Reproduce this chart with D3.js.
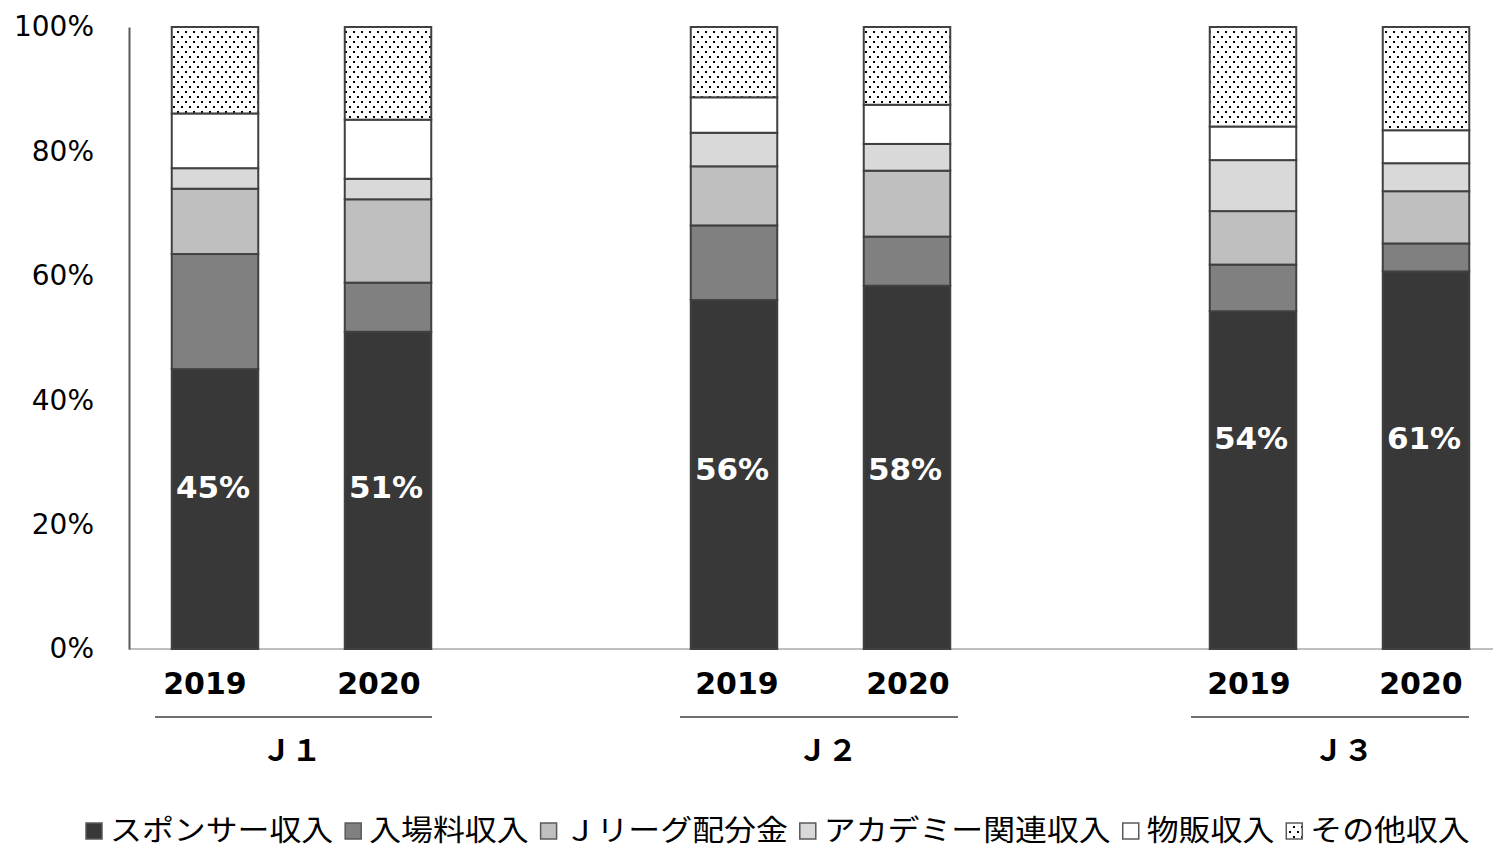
<!DOCTYPE html>
<html>
<head>
<meta charset="utf-8">
<script src="https://cdn.jsdelivr.net/npm/d3@7"></script>
<style>
  html, body { margin: 0; padding: 0; background: #fff; }
  svg { display: block; }
</style>
</head>
<body>
<svg id="chart" width="1493" height="849"></svg>
<script>
// Revenue composition of J.League clubs, 2019 vs 2020 (share of total, %)
const leagues = ["Ｊ１", "Ｊ２", "Ｊ３"];
const years = ["2019", "2020"];
const seriesNames = ["スポンサー収入", "入場料収入", "Ｊリーグ配分金", "アカデミー関連収入", "物販収入", "その他収入"];

// one value per bar, in order J1-2019, J1-2020, J2-2019, J2-2020, J3-2019, J3-2020
const sponsor      = [45.0, 51.0, 56.1, 58.4, 54.3, 60.7];
const attendance   = [18.5,  7.9, 12.0,  7.9,  7.5,  4.5];
const distribution = [10.5, 13.4,  9.5, 10.6,  8.6,  8.4];
const academy      = [ 3.3,  3.3,  5.4,  4.3,  8.2,  4.5];
const merchandise  = [ 8.8,  9.5,  5.7,  6.3,  5.4,  5.3];
const other        = [13.9, 14.9, 11.3, 12.5, 16.0, 16.6];

const yTicks = [0, 20, 40, 60, 80, 100];

const allSeries = [sponsor, attendance, distribution, academy, merchandise, other];
const fills = ["#383838", "#808080", "#bfbfbf", "#d9d9d9", "#ffffff", "url(#dots)"];

// per-league label layout (pixel nudges and label height in % units)
const labelLevel = { "Ｊ１": 26, "Ｊ２": 29, "Ｊ３": 34 };
const yearShift  = { "Ｊ１": [-10, -9], "Ｊ２": [3, 1], "Ｊ３": [-4, -5] };
const groupShift = { "Ｊ１": -10, "Ｊ２": 7, "Ｊ３": 4 };
const lineExtent = { "Ｊ１": [-60, 44], "Ｊ２": [-54, 51], "Ｊ３": [-62, 43] };

const svg = d3.select("#chart");

// dotted fill for the last series
const defs = svg.append("defs");
const pat = defs.append("pattern")
  .attr("id", "dots").attr("patternUnits", "userSpaceOnUse")
  .attr("width", 8).attr("height", 10);
pat.append("rect").attr("width", 8).attr("height", 10).attr("fill", "#fff");
pat.append("rect").attr("x", 1).attr("y", 1).attr("width", 2).attr("height", 2).attr("fill", "#000");
pat.append("rect").attr("x", 5).attr("y", 6).attr("width", 2).attr("height", 2).attr("fill", "#000");

// bar records
const bars = [];
leagues.forEach((lg, gi) => years.forEach((yr, yi) => {
  const i = gi * 2 + yi;
  const row = { key: lg + "|" + yr, league: lg, year: yr, yi, i };
  seriesNames.forEach((s, si) => row[s] = allSeries[si][i]);
  bars.push(row);
}));

// slot list: bars with an empty slot between leagues
const slots = [];
leagues.forEach((lg, gi) => {
  years.forEach(yr => slots.push(lg + "|" + yr));
  if (gi < leagues.length - 1) slots.push("gap" + gi);
});

const x = d3.scaleBand().domain(slots).range([128.5, 1512.5]).paddingInner(0.5).paddingOuter(0.25);
const y = d3.scaleLinear().domain([0, 100]).range([649, 27]);
const cx = k => x(k) + x.bandwidth() / 2;

const stacked = d3.stack().keys(seriesNames)(bars);

// x axis baseline
svg.append("line")
  .attr("x1", 129).attr("x2", 1493).attr("y1", y(0)).attr("y2", y(0))
  .attr("stroke", "#bfbfbf").attr("stroke-width", 2);

// stacked segments
const layer = svg.append("g").selectAll("g").data(stacked).join("g")
  .attr("fill", (d, i) => fills[i]);
layer.selectAll("rect").data(d => d).join("rect")
  .attr("x", d => x(d.data.key))
  .attr("width", x.bandwidth())
  .attr("y", d => y(d[1]))
  .attr("height", d => y(d[0]) - y(d[1]))
  .attr("stroke", "#404040").attr("stroke-width", 2);

// y axis
const yAxis = svg.append("g").attr("transform", "translate(129,0)")
  .call(d3.axisLeft(y).tickValues(yTicks).tickSize(0).tickPadding(35).tickFormat(d => d + "%"));
yAxis.select(".domain").attr("stroke", "#595959").attr("stroke-width", 2);
yAxis.selectAll("text")
  .attr("font-family", "'DejaVu Sans', Verdana, sans-serif")
  .attr("font-size", 28).attr("fill", "#000");

// value labels on the sponsor segment
svg.append("g").selectAll("text").data(bars).join("text")
  .attr("x", d => cx(d.key) - 2)
  .attr("y", d => y(labelLevel[d.league]))
  .attr("text-anchor", "middle").attr("dominant-baseline", "central")
  .attr("font-family", "'DejaVu Sans', Verdana, sans-serif")
  .attr("font-weight", "bold").attr("font-size", 31).attr("fill", "#fff")
  .text(d => Math.round(d["スポンサー収入"]) + "%");

// year labels
svg.append("g").selectAll("text").data(bars).join("text")
  .attr("x", d => cx(d.key) + yearShift[d.league][d.yi])
  .attr("y", 683)
  .attr("text-anchor", "middle").attr("dominant-baseline", "central")
  .attr("font-family", "'DejaVu Sans', Verdana, sans-serif")
  .attr("font-weight", "bold").attr("font-size", 30).attr("fill", "#000")
  .text(d => d.year);

// league group labels with separator line
leagues.forEach(lg => {
  const c1 = cx(lg + "|" + years[0]);
  const c2 = cx(lg + "|" + years[1]);
  svg.append("line")
    .attr("x1", c1 + lineExtent[lg][0]).attr("x2", c2 + lineExtent[lg][1])
    .attr("y1", 717).attr("y2", 717)
    .attr("stroke", "#404040").attr("stroke-width", 1.5);
  svg.append("text")
    .attr("x", (c1 + c2) / 2 + groupShift[lg]).attr("y", 750)
    .attr("text-anchor", "middle").attr("dominant-baseline", "central")
    .attr("font-family", "'DejaVu Sans', 'Noto Sans CJK JP', sans-serif")
    .attr("font-weight", "bold").attr("font-size", 30).attr("fill", "#000")
    .text(lg);
});

// legend: swatch + label, laid out left to right, labels slightly widened
const legend = svg.append("g");
const stretch = 1.1;
let lx = 86;
const ly = 829;
seriesNames.forEach((name, i) => {
  legend.append("rect")
    .attr("x", lx).attr("y", ly - 6).attr("width", 16).attr("height", 16)
    .attr("fill", fills[i]).attr("stroke", "#595959").attr("stroke-width", 1.5);
  const tx = lx + 24;
  const t = legend.append("text")
    .attr("transform", `translate(${tx},${ly}) scale(${stretch},1)`)
    .attr("dominant-baseline", "central")
    .attr("font-family", "'Noto Sans CJK JP', sans-serif")
    .attr("font-size", 29).attr("fill", "#000")
    .text(name);
  lx = tx + t.node().getComputedTextLength() * stretch + 12;
});
</script>
</body>
</html>
